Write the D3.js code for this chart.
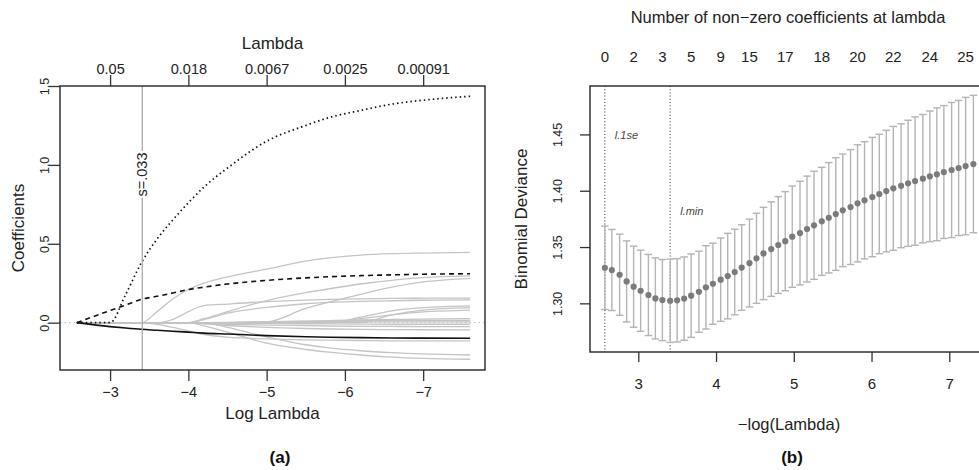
<!DOCTYPE html>
<html>
<head>
<meta charset="utf-8">
<script src="https://cdn.jsdelivr.net/npm/d3@7"></script>
<style>
  body { margin: 0; background: #fff; }
  svg { display: block; font-family: "Liberation Sans", Arial, Helvetica, sans-serif; }
</style>
</head>
<body>
<svg width="979" height="470"></svg>
<script>
// ---- (a) lasso coefficient paths, read at these log(lambda) knots ----
const logLambdaKnots = [-2.575, -3.0, -3.2, -3.4, -3.6, -3.8, -4.0, -4.2, -4.5, -5.0, -5.5, -5.8, -6.2, -6.6, -7.0, -7.6];
const dottedCoef = [0, 0, 0.18, 0.38, 0.53, 0.65, 0.76, 0.86, 0.98, 1.15, 1.25, 1.30, 1.345, 1.385, 1.41, 1.435];
const dashedCoef = [0, 0.077, 0.112, 0.148, 0.167, 0.188, 0.21, 0.225, 0.245, 0.268, 0.284, 0.291, 0.298, 0.303, 0.307, 0.31];
const solidCoef = [0, -0.025, -0.034, -0.042, -0.048, -0.054, -0.060, -0.066, -0.072, -0.082, -0.089, -0.092, -0.095, -0.097, -0.098, -0.099];
const grayCoefs = [
    [0, 0, 0, 0, 0.07, 0.15, 0.21, 0.25, 0.29, 0.34, 0.39, 0.41, 0.428, 0.437, 0.441, 0.445],
    [0, 0, 0, 0, 0, 0.02, 0.07, 0.108, 0.118, 0.133, 0.143, 0.147, 0.151, 0.154, 0.155, 0.156],
    [0, 0, 0, 0, 0, 0, 0, 0.02, 0.06, 0.097, 0.12, 0.128, 0.135, 0.139, 0.142, 0.144],
    [0, 0, 0, 0, 0, 0, 0, 0.025, 0.07, 0.14, 0.19, 0.215, 0.245, 0.268, 0.285, 0.296],
    [0, 0, 0, 0, 0, 0, 0, 0, 0, 0.005, 0.09, 0.13, 0.18, 0.225, 0.258, 0.281],
    [0, 0, 0, 0, 0, 0, 0, 0, 0, 0, 0, 0, 0.035, 0.075, 0.095, 0.106],
    [0, 0, 0, 0, 0, 0, 0, 0, 0, 0, 0, 0, 0, 0.05, 0.08, 0.095],
    [0, 0, 0, 0, 0, 0, 0, 0, 0, 0, 0, 0, 0.025, 0.05, 0.068, 0.08],
    [0, 0, 0, 0, 0, 0, 0, 0, 0, 0.005, 0.01, 0.013, 0.017, 0.02, 0.023, 0.025],
    [0, 0, 0, 0, 0, 0, 0, 0, 0.002, 0.005, 0.008, 0.01, 0.012, 0.013, 0.014, 0.015],
    [0, 0, 0, 0, 0, 0, 0, 0, 0, 0.002, 0.003, 0.004, 0.005, 0.005, 0.005, 0.005],
    [0, 0, 0, 0, 0, 0, 0, 0, -0.003, -0.005, -0.007, -0.008, -0.009, -0.01, -0.01, -0.01],
    [0, 0, 0, 0, 0, 0, 0, -0.005, -0.01, -0.015, -0.019, -0.021, -0.023, -0.024, -0.025, -0.025],
    [0, 0, 0, 0, 0, 0, 0, -0.008, -0.018, -0.03, -0.037, -0.04, -0.043, -0.044, -0.045, -0.046],
    [0, 0, 0, 0, -0.01, -0.03, -0.052, -0.075, -0.092, -0.103, -0.109, -0.111, -0.113, -0.115, -0.116, -0.116],
    [0, 0, 0, 0, 0, 0, 0, -0.02, -0.06, -0.13, -0.17, -0.187, -0.205, -0.218, -0.226, -0.232],
    [0, 0, 0, 0, 0, 0, 0, 0, -0.03, -0.09, -0.14, -0.16, -0.178, -0.19, -0.198, -0.205]
];
const logLambdaTicks = [-3, -4, -5, -6, -7];
const lambdaTickLabels = ['0.05', '0.018', '0.0067', '0.0025', '0.00091'];
const coefTicks = [0, 0.5, 1.0, 1.5];
const sLambda = 0.033;

// ---- (b) cross-validated binomial deviance ----
const negLogLambda = [2.57, 2.66, 2.76, 2.85, 2.94, 3.03, 3.13, 3.22, 3.31, 3.41,
    3.50, 3.59, 3.68, 3.78, 3.87, 3.96, 4.06, 4.15, 4.24, 4.33,
    4.43, 4.52, 4.61, 4.71, 4.80, 4.89, 4.98, 5.08, 5.17, 5.26,
    5.36, 5.45, 5.54, 5.63, 5.73, 5.82, 5.91, 6.01, 6.10, 6.19,
    6.28, 6.38, 6.47, 6.56, 6.66, 6.75, 6.84, 6.93, 7.03, 7.12,
    7.21, 7.31];
const cvMean = [1.3316, 1.3296, 1.3254, 1.3195, 1.3148, 1.3112, 1.3074, 1.3044, 1.3029, 1.3023,
    1.3027, 1.3042, 1.3068, 1.3103, 1.3142, 1.3174, 1.3210, 1.3242, 1.3278, 1.3318,
    1.3358, 1.3400, 1.3443, 1.3482, 1.3518, 1.3552, 1.3592, 1.3624, 1.3660, 1.3693,
    1.3728, 1.3760, 1.3793, 1.3826, 1.3855, 1.3888, 1.3915, 1.3944, 1.3971, 1.3997,
    1.4021, 1.4044, 1.4066, 1.4086, 1.4107, 1.4128, 1.4146, 1.4166, 1.4184, 1.4202,
    1.4219, 1.4237];
const cvSE = [0.037, 0.036, 0.036, 0.036, 0.036, 0.036, 0.036, 0.036, 0.036, 0.037,
    0.037, 0.037, 0.037, 0.036, 0.037, 0.036, 0.037, 0.038, 0.038, 0.038,
    0.039, 0.040, 0.041, 0.042, 0.043, 0.044, 0.045, 0.046, 0.047, 0.048,
    0.048, 0.049, 0.050, 0.050, 0.051, 0.052, 0.052, 0.053, 0.053, 0.054,
    0.055, 0.055, 0.056, 0.057, 0.057, 0.058, 0.059, 0.059, 0.060, 0.060,
    0.061, 0.061];
const nzeroLabels = [0, 2, 3, 5, 9, 15, 17, 18, 20, 22, 24, 25];
const nzeroAt = [0, 4, 8, 12, 16, 20, 25, 30, 35, 40, 45, 50];
const devianceTicks = [1.30, 1.35, 1.40, 1.45];
const negLogTicks = [3, 4, 5, 6, 7];
const idx1se = 0;
const idxMin = 9;

const svg = d3.select('svg');
const ink = '#222';
const boxColor = '#333';

// ================= panel (a) =================
const xA = d3.scaleLinear().domain([-2.36, -7.79]).range([60, 485]);
const yA = d3.scaleLinear().domain([-0.30, 1.50]).range([370, 86]);

svg.append('clipPath').attr('id', 'clipA')
    .append('rect').attr('x', 60).attr('y', 86).attr('width', 425).attr('height', 284);

const gA = svg.append('g');
const plotA = gA.append('g').attr('clip-path', 'url(#clipA)');

plotA.append('line')
    .attr('x1', 60).attr('x2', 485)
    .attr('y1', yA(0)).attr('y2', yA(0))
    .attr('stroke', '#b8b8b8').attr('stroke-dasharray', '1.5,3');

const coefLine = d3.line()
    .x((d, i) => xA(logLambdaKnots[i]))
    .y(d => yA(d))
    .curve(d3.curveMonotoneX);

plotA.selectAll('path.gray')
    .data(grayCoefs)
    .enter()
    .append('path')
    .attr('class', 'gray')
    .attr('d', coefLine)
    .attr('fill', 'none')
    .attr('stroke', '#c4c4c4')
    .attr('stroke-width', 1.3);

plotA.append('path').attr('d', coefLine(solidCoef))
    .attr('fill', 'none').attr('stroke', '#111').attr('stroke-width', 1.6);
plotA.append('path').attr('d', coefLine(dashedCoef))
    .attr('fill', 'none').attr('stroke', '#111').attr('stroke-width', 1.6)
    .attr('stroke-dasharray', '5,4');
plotA.append('path').attr('d', coefLine(dottedCoef))
    .attr('fill', 'none').attr('stroke', '#111').attr('stroke-width', 1.7)
    .attr('stroke-dasharray', '1.5,3');

// selected lambda
const sx = xA(Math.log(sLambda));
plotA.append('line')
    .attr('x1', sx).attr('x2', sx).attr('y1', 86).attr('y2', 370)
    .attr('stroke', '#aaa').attr('stroke-width', 1.3);
gA.append('rect')
    .attr('x', sx - 7).attr('y', 151).attr('width', 14).attr('height', 47)
    .attr('fill', '#fff');
gA.append('text')
    .attr('transform', `translate(${sx},174.5) rotate(-90)`)
    .attr('dy', '0.35em')
    .attr('text-anchor', 'middle')
    .attr('font-size', 14.5)
    .attr('fill', ink)
    .text('s=.033');

// axes
const axA1 = gA.append('g').attr('transform', 'translate(0,370)')
    .call(d3.axisBottom(xA).tickValues(logLambdaTicks).tickSize(11).tickPadding(6)
        .tickFormat(d3.format('d')));
const axA3 = gA.append('g').attr('transform', 'translate(0,86)')
    .call(d3.axisTop(xA).tickValues(logLambdaTicks).tickSize(11).tickPadding(1)
        .tickFormat((d, i) => lambdaTickLabels[i]));
const axA2 = gA.append('g').attr('transform', 'translate(60,0)')
    .call(d3.axisLeft(yA).tickValues(coefTicks).tickSize(11).tickFormat(d3.format('.1f')));

[axA1, axA3].forEach(ax => ax.selectAll('text').attr('font-size', 14.5).attr('fill', ink));
axA2.selectAll('text')
    .attr('font-size', 12.5).attr('fill', ink)
    .attr('x', null)
    .attr('text-anchor', 'middle')
    .attr('transform', 'translate(-15,0) rotate(-90)')
    .attr('dy', '0.35em');
[axA1, axA2, axA3].forEach(ax => {
    ax.select('.domain').remove();
    ax.selectAll('line').attr('stroke', boxColor).attr('stroke-width', 1.3);
    ax.attr('font-family', null);
});

gA.append('rect')
    .attr('x', 60).attr('y', 86).attr('width', 425).attr('height', 284)
    .attr('fill', 'none').attr('stroke', boxColor).attr('stroke-width', 1.5);

gA.append('text').attr('x', 272.5).attr('y', 43.5).attr('dy', '0.35em')
    .attr('text-anchor', 'middle').attr('font-size', 17).attr('fill', ink).text('Lambda');
gA.append('text').attr('x', 272.5).attr('y', 413.5).attr('dy', '0.35em')
    .attr('text-anchor', 'middle').attr('font-size', 17).attr('fill', ink).text('Log Lambda');
gA.append('text')
    .attr('transform', 'translate(18,228) rotate(-90)').attr('dy', '0.35em')
    .attr('text-anchor', 'middle').attr('font-size', 17).attr('fill', ink).text('Coefficients');
gA.append('text').attr('x', 280).attr('y', 457).attr('dy', '0.35em')
    .attr('text-anchor', 'middle').attr('font-size', 17).attr('font-weight', 'bold')
    .attr('fill', '#111').text('(a)');

// ================= panel (b) =================
const xB = d3.scaleLinear().domain([2.379, 7.485]).range([590, 987]);
const yB = d3.scaleLinear().domain([1.2568, 1.493]).range([352, 86]);

const gB = svg.append('g');

[idx1se, idxMin].forEach(i => {
    gB.append('line')
        .attr('x1', xB(negLogLambda[i])).attr('x2', xB(negLogLambda[i]))
        .attr('y1', 86).attr('y2', 352)
        .attr('stroke', '#444').attr('stroke-width', 1.2)
        .attr('stroke-dasharray', '1,2.2');
});

const bars = gB.selectAll('g.bar')
    .data(cvMean)
    .enter()
    .append('g')
    .attr('class', 'bar')
    .attr('stroke', '#b4b4b4')
    .attr('stroke-width', 1.4);

bars.append('line')
    .attr('x1', (d, i) => xB(negLogLambda[i]))
    .attr('x2', (d, i) => xB(negLogLambda[i]))
    .attr('y1', (d, i) => yB(d - cvSE[i]))
    .attr('y2', (d, i) => yB(d + cvSE[i]));
bars.append('line')
    .attr('x1', (d, i) => xB(negLogLambda[i]) - 3.8)
    .attr('x2', (d, i) => xB(negLogLambda[i]) + 3.8)
    .attr('y1', (d, i) => yB(d + cvSE[i]))
    .attr('y2', (d, i) => yB(d + cvSE[i]));
bars.append('line')
    .attr('x1', (d, i) => xB(negLogLambda[i]) - 3.8)
    .attr('x2', (d, i) => xB(negLogLambda[i]) + 3.8)
    .attr('y1', (d, i) => yB(d - cvSE[i]))
    .attr('y2', (d, i) => yB(d - cvSE[i]));

gB.selectAll('circle')
    .data(cvMean)
    .enter()
    .append('circle')
    .attr('cx', (d, i) => xB(negLogLambda[i]))
    .attr('cy', d => yB(d))
    .attr('r', 3.1)
    .attr('fill', '#7b7b7b');

gB.append('text').attr('x', xB(negLogLambda[idx1se]) + 10).attr('y', 135).attr('dy', '0.35em')
    .attr('font-size', 11).attr('font-style', 'italic').attr('fill', '#444').text('l.1se');
gB.append('text').attr('x', xB(negLogLambda[idxMin]) + 10).attr('y', 211).attr('dy', '0.35em')
    .attr('font-size', 11).attr('font-style', 'italic').attr('fill', '#444').text('l.min');

// axes
const axB1 = gB.append('g').attr('transform', 'translate(0,352)')
    .call(d3.axisBottom(xB).tickValues(negLogTicks).tickSize(10).tickPadding(16)
        .tickFormat(d3.format('d')));
axB1.selectAll('text').attr('font-size', 15).attr('fill', ink);
const axB2 = gB.append('g').attr('transform', 'translate(590,0)')
    .call(d3.axisLeft(yB).tickValues(devianceTicks).tickSize(10).tickFormat(d3.format('.2f')));
axB2.selectAll('text')
    .attr('font-size', 12.5).attr('fill', ink)
    .attr('x', null)
    .attr('text-anchor', 'middle')
    .attr('transform', 'translate(-32,0) rotate(-90)')
    .attr('dy', '0.35em');
[axB1, axB2].forEach(ax => {
    ax.select('.domain').remove();
    ax.selectAll('line').attr('stroke', boxColor).attr('stroke-width', 1.3);
    ax.attr('font-family', null);
});

gB.selectAll('text.nzero')
    .data(nzeroLabels)
    .enter()
    .append('text')
    .attr('class', 'nzero')
    .attr('x', (d, i) => xB(negLogLambda[nzeroAt[i]]))
    .attr('y', 57)
    .attr('dy', '0.35em')
    .attr('text-anchor', 'middle')
    .attr('font-size', 15)
    .attr('fill', ink)
    .text(d => d);

gB.append('path')
    .attr('d', 'M987,86H590V352H987')
    .attr('fill', 'none').attr('stroke', boxColor).attr('stroke-width', 1.5);

gB.append('text').attr('x', 788).attr('y', 17).attr('dy', '0.35em')
    .attr('text-anchor', 'middle').attr('font-size', 16.5).attr('fill', ink)
    .text('Number of non\u2212zero coefficients at lambda');
gB.append('text').attr('x', 789).attr('y', 424).attr('dy', '0.35em')
    .attr('text-anchor', 'middle').attr('font-size', 16.5).attr('fill', ink)
    .text('\u2212log(Lambda)');
gB.append('text')
    .attr('transform', 'translate(521,219) rotate(-90)').attr('dy', '0.35em')
    .attr('text-anchor', 'middle').attr('font-size', 17).attr('fill', ink).text('Binomial Deviance');
gB.append('text').attr('x', 792).attr('y', 457).attr('dy', '0.35em')
    .attr('text-anchor', 'middle').attr('font-size', 17).attr('font-weight', 'bold')
    .attr('fill', '#111').text('(b)');
</script>
</body>
</html>
